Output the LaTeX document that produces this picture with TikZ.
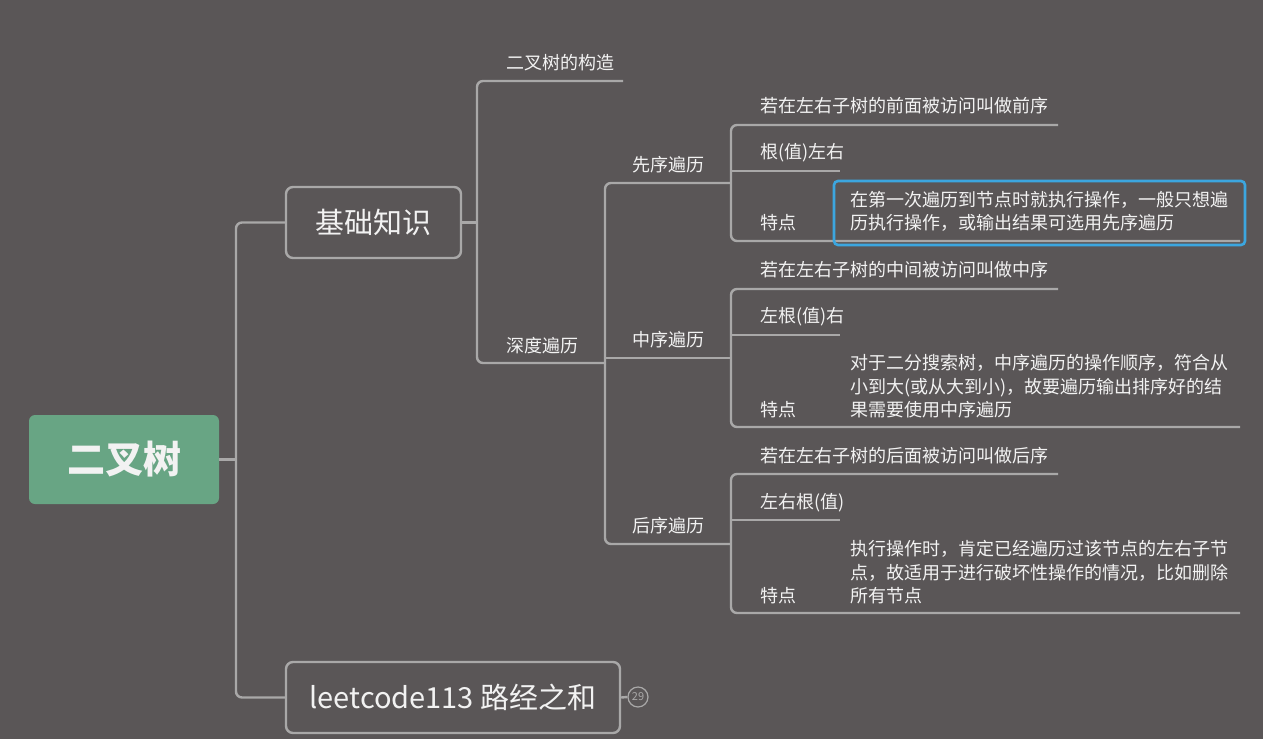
\documentclass[tikz,border=0pt]{standalone}
\usepackage{fontspec}
\setmainfont{Noto Sans CJK SC}
\definecolor{bg}{HTML}{5A5657}
\definecolor{lc}{HTML}{A9A8A8}
\definecolor{tc}{HTML}{F2F2F2}
\definecolor{rootg}{HTML}{68A584}
\definecolor{hl}{HTML}{3CA6DF}
\begin{document}
\begin{tikzpicture}[x=1pt,y=-1pt,
  ln/.style={draw=lc, line width=2.4pt, rounded corners=6pt},
  txt/.style={text=tc, inner sep=0pt, anchor=west, font=\fontsize{18}{23.5}\selectfont},
  note/.style={text=tc, inner sep=0pt, anchor=west, align=left, font=\fontsize{18}{23.5}\selectfont},
  rootbox/.style={fill=rootg, rounded corners=6pt, text=tc, inner sep=0pt, minimum width=190pt, minimum height=89pt, font=\fontsize{38}{40}\selectfont\bfseries},
  topbox/.style={draw=lc, line width=2.4pt, rounded corners=7pt, text=tc, inner sep=0pt, font=\fontsize{29}{32}\selectfont},
  numc/.style={circle, draw=lc, line width=1.2pt, minimum size=20pt, inner sep=0pt, text=lc, font=\fontsize{11}{12}\selectfont},
  hlbox/.style={draw=hl, line width=2.6pt, rounded corners=4pt}
]
\fill[bg] (0,0) rectangle (1263,739);
\useasboundingbox (0,0) rectangle (1263,739);

% main nodes
\node[rootbox] (root) at (124,459.5) {二叉树};
\node[topbox, minimum width=175pt, minimum height=71pt] (jc) at (373.5,222.5) {基础知识};
\node[topbox, minimum width=334pt, minimum height=71pt] (lc) at (453,697.5) {leetcode113 路经之和};
\node[numc] (num) at (638,697) {29};

% junctions
\coordinate (j0) at (236,459.5);
\coordinate (j1) at (477,222.5);
\coordinate (j2) at (605,363);
\coordinate (jx) at (731,183);
\coordinate (jz) at (731,358);
\coordinate (jh) at (731,544);

% level 1
\draw[ln] (root.east) -- (j0);
\draw[ln] (jc.west) -| (j0) |- (lc.west);
\draw[ln] (lc.east) -- (num.west);

% level 2
\node[txt] (gz) at (506,63) {二叉树的构造};
\node[txt] (sd) at (506,346) {深度遍历};
\coordinate (gzE) at (623,81);
\draw[ln] (jc.east) -- (j1);
\draw[ln] (gzE) -| (j1) |- (j2);

% level 3
\node[txt] (xx) at (632,165) {先序遍历};
\node[txt] (zx) at (632,340) {中序遍历};
\node[txt] (hx) at (632,526) {后序遍历};
\draw[ln] (jx) -| (j2) |- (jh);
\draw[ln] (j2 |- jz) -- (jz);

% pre-order children
\node[txt] (x1) at (760,106) {若在左右子树的前面被访问叫做前序};
\node[txt] (x2) at (760,153) {根(值)左右};
\node[txt] (x3) at (760,223) {特点};
\node[note] (x3n) at (850,211.5) {在第一次遍历到节点时就执行操作，一般只想遍\\历执行操作，或输出结果可选用先序遍历};
\coordinate (x1E) at (1058,125);
\coordinate (x2E) at (840,171);
\coordinate (x3E) at (1240,241);
\draw[ln] (x1E) -| (jx) |- (x3E);
\draw[ln] (jx |- x2E) -- (x2E);
\draw[hlbox] (834,181) rectangle (1245,245);

% in-order children
\node[txt] (z1) at (760,270) {若在左右子树的中间被访问叫做中序};
\node[txt] (z2) at (760,317) {左根(值)右};
\node[txt] (z3) at (760,410) {特点};
\node[note] (z3n) at (850,386.5) {对于二分搜索树，中序遍历的操作顺序，符合从\\小到大(或从大到小)，故要遍历输出排序好的结\\果需要使用中序遍历};
\coordinate (z1E) at (1058,289);
\coordinate (z2E) at (840,335);
\coordinate (z3E) at (1240,427);
\draw[ln] (z1E) -| (jz) |- (z3E);
\draw[ln] (jz |- z2E) -- (z2E);

% post-order children
\node[txt] (h1) at (760,456) {若在左右子树的后面被访问叫做后序};
\node[txt] (h2) at (760,503) {左右根(值)};
\node[txt] (h3) at (760,596) {特点};
\node[note] (h3n) at (850,572.5) {执行操作时，肯定已经遍历过该节点的左右子节\\点，故适用于进行破坏性操作的情况，比如删除\\所有节点};
\coordinate (h1E) at (1058,474);
\coordinate (h2E) at (840,520);
\coordinate (h3E) at (1240,613);
\draw[ln] (h1E) -| (jh) |- (h3E);
\draw[ln] (jh |- h2E) -- (h2E);
\end{tikzpicture}
\end{document}
